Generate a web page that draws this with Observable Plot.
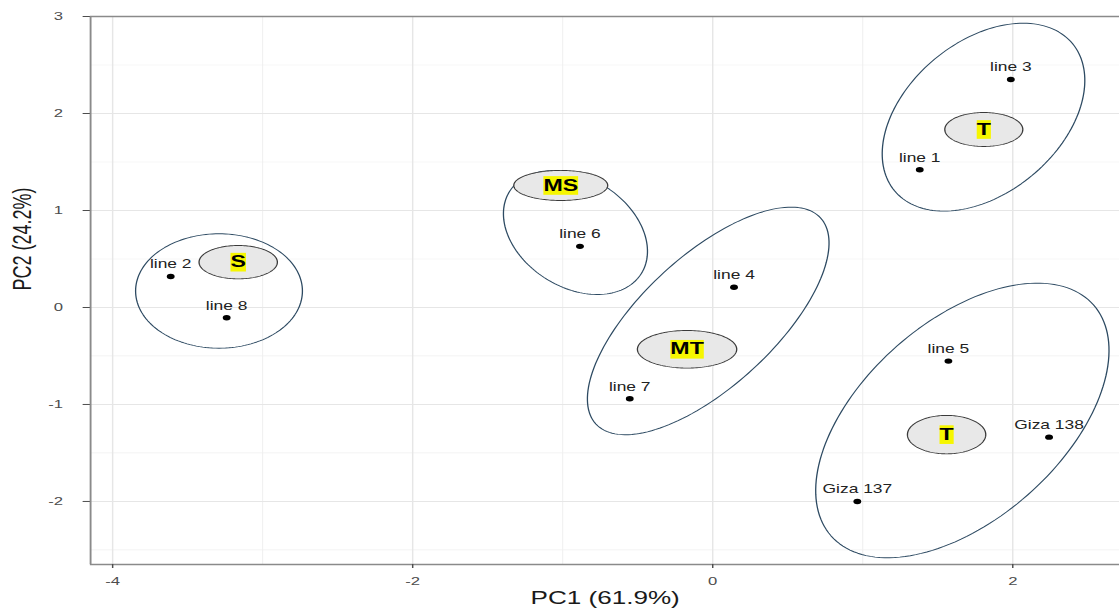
<!DOCTYPE html>
<html>
<head>
<meta charset="utf-8">
<script src="https://cdn.jsdelivr.net/npm/d3@7"></script>
<script src="https://cdn.jsdelivr.net/npm/@observablehq/plot@0.6"></script>
<style>
  html, body { margin: 0; padding: 0; background: #fff; overflow: hidden; }
  #chart svg { display: block; }
</style>
</head>
<body>
<div id="chart"></div>
<script>
// ---- data ----
const pointNames = ["line 1", "line 2", "line 3", "line 4", "line 5", "line 6", "line 7", "line 8", "Giza 137", "Giza 138"];
const pointX = [1.38, -3.613, 1.987, 0.142, 1.571, -0.885, -0.553, -3.24, 0.964, 2.242];
const pointY = [1.42, 0.32, 2.35, 0.209, -0.553, 0.63, -0.941, -0.106, -2.0, -1.337];

// group confidence ellipses: centre and two conjugate semi-axes (data units)
const ellipseGroups = ["S", "MS", "MT", "T (top)", "T (bottom)"];
const ellipseCx = [-3.291, -0.915, -0.03, 1.805, 1.664];
const ellipseCy = [0.170, 0.773, -0.139, 1.962, -1.165];
const ellipseUx = [0.556, 0.440, 0.749, 0.593, 0.875];
const ellipseUy = [0.0, -0.421, 1.062, 0.759, 1.190];
const ellipseVx = [0.0, -0.192, 0.296, 0.323, 0.436];
const ellipseVy = [0.590, -0.481, -0.499, -0.602, -0.767];

// group label ellipses (centre, radii in data units)
const groupLabels = ["S", "MS", "MT", "T", "T"];
const groupX = [-3.163, -1.013, -0.171, 1.807, 1.559];
const groupY = [0.467, 1.258, -0.431, 1.835, -1.311];
const groupRx = [0.261, 0.313, 0.331, 0.260, 0.261];
const groupRy = [0.172, 0.155, 0.194, 0.175, 0.198];

// axes
const xTicks = [-4, -2, 0, 2];
const xMinor = [-3, -1, 1];
const yTicks = [-2, -1, 0, 1, 2, 3];
const yMinor = [-2.5, -1.5, -0.5, 0.5, 1.5, 2.5];
const xDomain = [-4.147, 2.713];
const yDomain = [-2.65, 3];
const xTitle = "PC1 (61.9%)";
const yTitle = "PC2 (24.2%)";

// ---- derived tables ----
const points = pointNames.map((n, i) => ({name: n, x: pointX[i], y: pointY[i]}));
const N = 160;
const bigRing = [];
ellipseGroups.forEach((g, k) => {
  for (let j = 0; j <= N; j++) {
    const t = 2 * Math.PI * j / N;
    bigRing.push({g, x: ellipseCx[k] + ellipseUx[k] * Math.cos(t) + ellipseVx[k] * Math.sin(t),
                     y: ellipseCy[k] + ellipseUy[k] * Math.cos(t) + ellipseVy[k] * Math.sin(t)});
  }
});
const smallRing = [];
groupLabels.forEach((g, k) => {
  for (let j = 0; j <= N; j++) {
    const t = 2 * Math.PI * j / N;
    smallRing.push({g: k, x: groupX[k] + groupRx[k] * Math.cos(t), y: groupY[k] + groupRy[k] * Math.sin(t)});
  }
});
const groups = groupLabels.map((l, k) => ({label: l, x: groupX[k], y: groupY[k]}));

const W = 772, H = 610, FINAL_W = 1119;

const chart = Plot.plot({
  width: W, height: H,
  marginLeft: 62, marginRight: 0, marginTop: 16, marginBottom: 46,
  style: {fontFamily: "'Liberation Sans', Arial, sans-serif", background: "#fff", overflow: "visible"},
  x: {domain: xDomain, label: null},
  y: {domain: yDomain, label: null},
  marks: [
    Plot.gridX(xMinor, {stroke: "#efefef", strokeOpacity: 1, strokeWidth: 0.7}),
    Plot.gridY(yMinor, {stroke: "#efefef", strokeOpacity: 1, strokeWidth: 0.7}),
    Plot.gridX(xTicks, {stroke: "#e6e6e6", strokeOpacity: 1, strokeWidth: 1}),
    Plot.gridY(yTicks, {stroke: "#e6e6e6", strokeOpacity: 1, strokeWidth: 1}),
    Plot.ruleX([xDomain[0]], {stroke: "#8a8a8a", strokeWidth: 1.3}),
    Plot.ruleY([yDomain[0], yDomain[1]], {stroke: "#8a8a8a", strokeWidth: 1.3}),
    Plot.axisX(xTicks, {anchor: "bottom", tickSize: 4, tickPadding: 8, fontSize: 11.5, color: "#4d4d4d",
      tickFormat: d => String(d), label: null}),
    Plot.axisY(yTicks, {anchor: "left", tickSize: 5, tickPadding: 14, fontSize: 11.5, color: "#4d4d4d",
      tickFormat: d => String(d), label: null}),
    Plot.line(bigRing, {x: "x", y: "y", z: "g", stroke: "#2d4a62", strokeWidth: 0.9, curve: "linear-closed"}),
    Plot.line(smallRing, {x: "x", y: "y", z: "g", fill: "#e8e8e8", stroke: "#3a3a3a", strokeWidth: 0.9, curve: "linear-closed"}),
    Plot.dot(points, {x: "x", y: "y", r: 2.7, fill: "#000", stroke: "none"}),
    Plot.text(points, {x: "x", y: "y", text: "name", dy: -12, fontSize: 12, fill: "#222"}),
    Plot.text(groups, {x: "x", y: "y", text: "label", fontSize: 16, fontWeight: "bold", fill: "#000"}),
    Plot.text([xTitle], {frameAnchor: "bottom", dy: 39, fontSize: 18, fill: "#1a1a1a"}),
    Plot.text([yTitle], {frameAnchor: "left", rotate: -90, dx: -47, fontSize: 18, fill: "#1a1a1a"})
  ]
});

document.getElementById("chart").append(chart);

// the reference is horizontally stretched: stretch the drawing to the full window width
chart.setAttribute("viewBox", `0 0 ${W} ${H}`);
chart.setAttribute("width", FINAL_W);
chart.setAttribute("height", H);
chart.setAttribute("preserveAspectRatio", "none");
chart.style.width = FINAL_W + "px";
chart.style.height = H + "px";
chart.style.maxWidth = "none";

// yellow highlight boxes behind the group labels
const labelSet = new Set(groupLabels);
chart.querySelectorAll("text").forEach(t => {
  const g = t.closest("g");
  const bold = g && (g.getAttribute("font-weight") === "bold" || t.getAttribute("font-weight") === "bold");
  if (!bold || !labelSet.has(t.textContent)) return;
  const b = t.getBBox();
  const r = document.createElementNS("http://www.w3.org/2000/svg", "rect");
  r.setAttribute("x", b.x);
  r.setAttribute("y", b.y);
  r.setAttribute("width", b.width);
  r.setAttribute("height", b.height + 1);
  r.setAttribute("fill", "#f6f600");
  const tr = t.getAttribute("transform");
  if (tr) r.setAttribute("transform", tr);
  t.parentNode.insertBefore(r, t);
});
</script>
</body>
</html>
